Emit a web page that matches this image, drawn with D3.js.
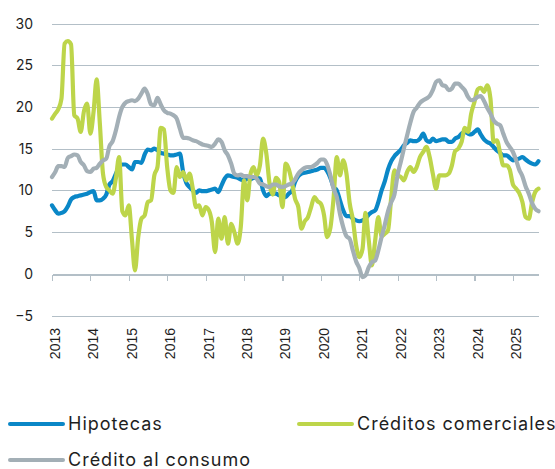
<!DOCTYPE html>
<html>
<head>
<meta charset="utf-8">
<script src="https://cdn.jsdelivr.net/npm/d3@7"></script>
<style>
  body { margin: 0; background: #fff; }
  .grid line, .zero path, .zero line { stroke: #b3bfc7; stroke-width: 1.2; shape-rendering: crispEdges; }
  .ylab text { font-family: Inter, "Noto Sans", sans-serif; font-size: 14px; fill: #1e1e1e; }
  .xlab text { font-family: "Liberation Sans", Arial, sans-serif; font-size: 14px; fill: #1e1e1e; }
  .legend text { font-family: Inter, "Noto Sans", sans-serif; font-size: 18px; letter-spacing: 1px; fill: #1e1e1e; }
  .series { fill: none; stroke-width: 4.2; stroke-linejoin: round; stroke-linecap: round; }
</style>
</head>
<body>
<svg></svg>
<script>
// Monthly values, Jan 2013 - Sep 2025 (% y/y)
const hipotecas = [
  8.2, 7.6, 7.2, 7.3, 7.5, 8.1, 8.9, 9.2, 9.3, 9.4, 9.5, 9.6,
  9.8, 9.9, 8.8, 8.8, 9.0, 9.5, 10.7, 11.1, 12.0, 12.8, 13.1, 13.1,
  12.8, 12.5, 13.4, 13.4, 13.3, 14.3, 14.9, 14.8, 15.0, 14.8, 14.5, 14.4,
  14.3, 14.2, 14.2, 14.3, 14.4, 12.2, 10.9, 10.4, 10.0, 9.7, 10.0, 9.9,
  9.9, 10.0, 10.1, 10.2, 9.8, 10.6, 11.4, 11.8, 11.7, 11.6, 11.5, 11.3,
  11.2, 11.4, 11.3, 11.5, 11.5, 11.4, 10.0, 9.3, 9.6, 9.6, 9.6, 9.4,
  9.3, 9.2, 9.6, 9.9, 11.0, 11.7, 12.0, 12.1, 12.2, 12.3, 12.4, 12.5,
  12.7, 12.7, 12.3, 11.5, 10.4, 10.0, 8.8, 7.6, 6.9, 6.9, 6.6, 6.4,
  6.3, 6.4, 6.6, 7.1, 7.4, 7.6, 8.6, 10.0, 11.1, 12.5, 13.5, 14.1,
  14.5, 14.9, 15.4, 15.7, 16.0, 15.9, 15.9, 16.2, 16.8, 16.0, 15.8, 16.2,
  15.9, 16.0, 16.1, 16.1, 15.8, 15.8, 16.2, 16.4, 16.8, 17.0, 16.8, 16.7,
  17.0, 17.3, 16.7, 16.1, 15.8, 15.6, 15.2, 14.8, 14.5, 14.2, 14.2, 13.9,
  13.6, 13.7, 13.8, 14.0, 13.7, 13.4, 13.2, 13.1, 13.5
];

const comerciales = [
  18.6, 19.2, 19.7, 21.0, 27.6, 27.9, 27.5, 19.0, 18.6, 17.0, 19.5, 20.4,
  16.8, 19.5, 23.3, 18.0, 12.0, 10.4, 10.0, 9.6, 11.5, 14.0, 7.5, 7.0,
  8.2, 4.0, 0.4, 4.4, 6.6, 7.0, 8.6, 8.8, 11.8, 12.8, 17.5, 17.3,
  12.8, 10.0, 9.7, 12.8, 11.6, 12.2, 11.2, 12.0, 10.2, 8.0, 8.2, 7.0,
  8.0, 7.6, 6.2, 2.6, 6.6, 4.2, 6.8, 3.6, 6.0, 5.0, 3.6, 5.6,
  11.2, 8.8, 11.8, 12.8, 11.8, 13.0, 16.2, 14.4, 10.8, 9.5, 11.5, 11.0,
  8.0, 13.2, 12.6, 11.0, 9.0, 8.0, 5.4, 6.3, 6.8, 8.0, 9.2, 8.7,
  8.4, 7.0, 4.4, 5.5, 9.0, 14.0, 11.8, 13.6, 12.0, 8.5, 6.5, 3.5,
  2.0, 3.0, 7.3, 4.0, 1.0, 4.0, 6.8, 4.5, 4.8, 5.2, 9.2, 12.4,
  11.8, 11.6, 11.2, 12.2, 12.8, 12.2, 12.8, 14.0, 14.6, 15.2, 14.0, 12.0,
  10.2, 11.8, 11.8, 11.8, 12.0, 13.0, 14.7, 15.0, 15.8, 17.5, 17.0, 19.2,
  20.6, 22.1, 22.3, 21.8, 22.6, 21.0, 15.8, 16.0, 14.5, 13.0, 13.0, 12.5,
  10.7, 10.2, 9.7, 8.6, 6.8, 6.6, 8.5, 9.8, 10.2
];

const consumo = [
  11.6, 12.2, 12.9, 12.9, 12.8, 13.9, 14.1, 14.3, 14.2, 13.4, 13.0, 12.3,
  12.2, 12.6, 12.7, 13.2, 13.6, 13.8, 15.3, 15.9, 17.2, 18.8, 20.0, 20.5,
  20.7, 20.8, 20.7, 21.0, 21.6, 22.2, 21.5, 20.3, 20.2, 21.1, 20.3, 19.6,
  19.3, 19.2, 19.0, 18.6, 17.4, 16.3, 16.3, 16.2, 16.0, 15.9, 15.7, 15.5,
  15.4, 15.3, 15.2, 15.6, 16.1, 15.8, 14.8, 14.2, 13.2, 12.0, 11.8, 11.9,
  11.7, 11.7, 11.6, 11.6, 11.4, 10.8, 10.7, 10.5, 10.4, 10.7, 10.7, 10.5,
  10.4, 10.5, 10.7, 10.8, 11.3, 12.0, 12.4, 12.7, 12.8, 12.8, 13.0, 13.3,
  13.7, 13.7, 13.1, 11.8, 10.2, 9.2, 7.2, 5.6, 4.5, 4.2, 2.8, 1.5,
  0.7, -0.4, -0.2, 0.8, 1.4, 1.6, 2.8, 4.4, 5.9, 7.5, 8.6, 9.5,
  11.9, 13.5, 15.0, 16.6, 18.1, 19.4, 19.9, 20.5, 20.8, 21.0, 21.3, 22.0,
  23.0, 23.2, 22.6, 22.5, 22.0, 22.2, 22.8, 22.8, 22.4, 22.0, 21.2, 20.8,
  20.9, 21.2, 21.3, 20.7, 19.9, 19.2, 18.4, 18.0, 17.8, 16.8, 15.8, 15.2,
  14.6, 13.6, 12.5, 11.7, 10.5, 9.6, 8.5, 7.8, 7.5
];

const yTicks = [-5, 0, 5, 10, 15, 20, 25, 30];
const yearTicks = d3.range(2013, 2026);

const seriesNames = ["Hipotecas", "Créditos comerciales", "Crédito al consumo"];
const seriesColors = ["#0a87c7", "#bdd54a", "#a3afb6"];

const w = 555;
const h = 469;

const svg = d3.select("svg")
  .attr("width", w)
  .attr("height", h);

const dates = hipotecas.map((d, i) => new Date(2013, i, 1));

const x = d3.scaleTime()
  .domain([new Date(2013, 0, 1), dates[dates.length - 1]])
  .range([52, 538.5]);

const y = d3.scaleLinear()
  .domain([-5, 30])
  .range([315.5, 23.5]);

// horizontal grid
svg.append("g")
  .attr("class", "grid")
  .selectAll("line")
  .data(yTicks.filter((d) => d !== 0))
  .enter()
  .append("line")
  .attr("x1", x.range()[0])
  .attr("x2", x.range()[1])
  .attr("y1", (d) => Math.round(y(d)) + 0.5)
  .attr("y2", (d) => Math.round(y(d)) + 0.5);

// zero line with year ticks
const yearDates = yearTicks.map((d) => new Date(d, 0, 1));
svg.append("g")
  .attr("class", "zero")
  .attr("transform", `translate(0,${Math.round(y(0)) + 0.5})`)
  .call(d3.axisBottom(x).tickValues(yearDates).tickSize(6).tickSizeOuter(0).tickFormat(""))
  .call((g) => g.select(".domain").attr("stroke-width", 1.6));

// y labels
svg.append("g")
  .attr("class", "ylab")
  .selectAll("text")
  .data(yTicks)
  .enter()
  .append("text")
  .attr("x", 33)
  .attr("y", (d) => y(d))
  .attr("dy", "0.36em")
  .attr("text-anchor", "end")
  .text((d) => d < 0 ? "\u2212" + Math.abs(d) : d);

// year labels, rotated
svg.append("g")
  .attr("class", "xlab")
  .selectAll("text")
  .data(yearDates)
  .enter()
  .append("text")
  .attr("transform", (d) => `translate(${x(d) + 3},328) rotate(-90)`)
  .attr("dy", "0.36em")
  .attr("text-anchor", "end")
  .text((d) => d.getFullYear());

// series
const line = d3.line()
  .x((d, i) => x(dates[i]))
  .y((d) => y(d))
  .curve(d3.curveMonotoneX);

const allSeries = [hipotecas, comerciales, consumo];

svg.append("g")
  .selectAll("path")
  .data(allSeries)
  .enter()
  .append("path")
  .attr("class", "series")
  .attr("stroke", (d, i) => seriesColors[i])
  .attr("d", line);

// legend
const legendPos = [[10, 424], [299, 424], [10, 460]];
const legend = svg.append("g")
  .attr("class", "legend")
  .selectAll("g")
  .data(seriesNames)
  .enter()
  .append("g")
  .attr("transform", (d, i) => `translate(${legendPos[i][0]},${legendPos[i][1]})`);

legend.append("line")
  .attr("x1", 0)
  .attr("x2", 53)
  .attr("stroke", (d, i) => seriesColors[i])
  .attr("stroke-width", 4)
  .attr("stroke-linecap", "round");

legend.append("text")
  .attr("x", 58)
  .attr("dy", "0.36em")
  .text((d) => d);
</script>
</body>
</html>
